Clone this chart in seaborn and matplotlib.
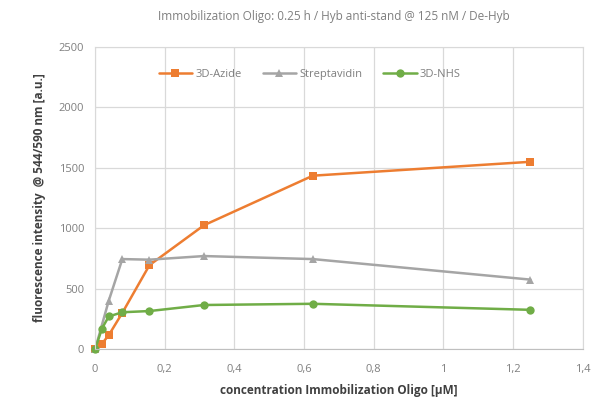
import pandas as pd
import numpy as np
import matplotlib
matplotlib.use('Agg')
import matplotlib.pyplot as plt
import seaborn as sns
from matplotlib.ticker import FuncFormatter

conc_azide = [0, 0.0195, 0.039, 0.078, 0.156, 0.3125, 0.625, 1.25]
azide = [0, 45, 115, 300, 695, 1025, 1435, 1550]

conc_strep = [0, 0.039, 0.078, 0.156, 0.3125, 0.625, 1.25]
strep = [0, 400, 745, 740, 770, 745, 575]

conc_nhs = [0, 0.0195, 0.039, 0.078, 0.156, 0.3125, 0.625, 1.25]
nhs = [0, 170, 270, 305, 315, 365, 375, 325]

series_names = ['3D-Azide', 'Streptavidin', '3D-NHS']
colors = ['#ED7D31', '#A5A5A5', '#70AD47']
marker_shapes = ['s', '^', 'o']

df = pd.concat([
    pd.DataFrame({'conc': conc_azide, 'val': azide, 'series': '3D-Azide'}),
    pd.DataFrame({'conc': conc_strep, 'val': strep, 'series': 'Streptavidin'}),
    pd.DataFrame({'conc': conc_nhs, 'val': nhs, 'series': '3D-NHS'}),
])

sns.set_style('white')
plt.rcParams['font.family'] = ['Open Sans', 'DejaVu Sans']

fig = plt.figure(figsize=(5.91, 4.05), dpi=100)
ax = fig.add_axes([0.161, 0.138, 0.825, 0.746])

sns.lineplot(data=df, x='conc', y='val', hue='series', style='series',
             hue_order=series_names, style_order=series_names,
             palette=dict(zip(series_names, colors)),
             markers=dict(zip(series_names, marker_shapes)),
             dashes=False, linewidth=1.8, markersize=6, markeredgewidth=0,
             sort=False, ax=ax)
for ln in ax.lines:
    ln.set_clip_on(False)

ax.set_xlim(0, 1.4)
ax.set_ylim(0, 2500)
ax.set_xticks(np.arange(0, 1.41, 0.2))
ax.set_yticks(np.arange(0, 2501, 500))
ax.xaxis.set_major_formatter(FuncFormatter(lambda v, p: ('%g' % round(v, 1)).replace('.', ',')))
ax.grid(True, color='#D9D9D9', linewidth=0.9)
ax.set_axisbelow(True)
for side in ['top', 'right', 'left']:
    ax.spines[side].set_color('#D9D9D9')
ax.spines['bottom'].set_color('#BFBFBF')
ax.tick_params(axis='x', length=0, labelsize=8, labelcolor='#7F7F7F', pad=11)
ax.tick_params(axis='y', length=0, labelsize=8, labelcolor='#7F7F7F', pad=8)

ax.set_xlabel('concentration Immobilization Oligo [µM]', fontsize=8.5,
              fontweight='bold', color='#404040', labelpad=6)
ax.set_ylabel('fluorescence intensity  @ 544/590 nm [a.u.]', fontsize=8.5,
              fontweight='bold', color='#404040', labelpad=9)
fig.suptitle('Immobilization Oligo: 0.25 h / Hyb anti-stand @ 125 nM / De-Hyb',
             fontsize=8.5, color='#7F7F7F', x=0.565, y=0.975)

leg = ax.legend(loc='upper center', bbox_to_anchor=(0.44, 0.96), ncol=3,
                frameon=False, fontsize=8, handlelength=3, columnspacing=1.9,
                handletextpad=0.3)
for t in leg.get_texts():
    t.set_color('#7F7F7F')

fig.savefig('out.png', dpi=100)
